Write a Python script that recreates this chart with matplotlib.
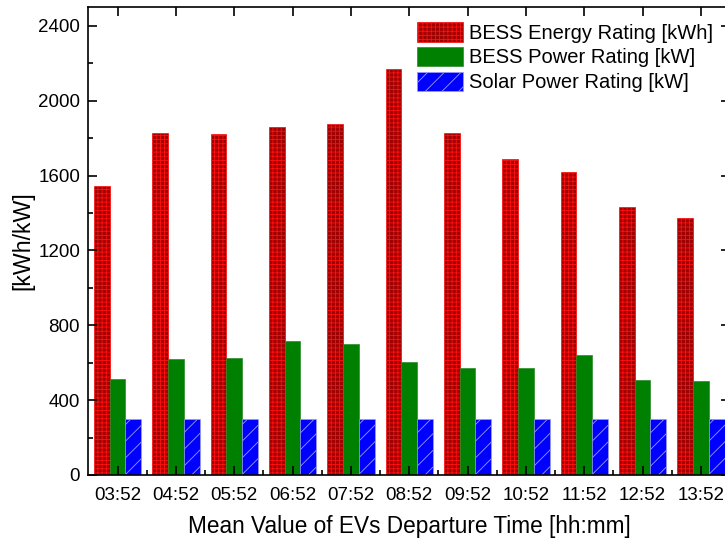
import matplotlib
matplotlib.use("Agg")
import matplotlib.pyplot as plt
from matplotlib.ticker import MultipleLocator
import numpy as np

departure_times = ["03:52", "04:52", "05:52", "06:52", "07:52", "08:52",
                   "09:52", "10:52", "11:52", "12:52", "13:52"]
bess_energy = [1543, 1827, 1821, 1859, 1875, 2170, 1827, 1687, 1617, 1432, 1373]
bess_power = [512, 620, 624, 715, 699, 604, 572, 572, 643, 507, 500]
solar_power = [300, 300, 300, 300, 300, 300, 300, 300, 300, 300, 300]

plt.rcParams["font.family"] = ["Liberation Sans", "DejaVu Sans"]
plt.rcParams["hatch.linewidth"] = 0.6


def main():
    fig = plt.figure(figsize=(7.25, 5.41), dpi=100)
    ax = fig.add_axes([0.122, 0.122, 0.885, 0.865])

    x = np.arange(len(departure_times))
    w = 0.27
    ax.bar(x - w, bess_energy, w, facecolor="#a00000", edgecolor="#ff1010",
           hatch="++++", linewidth=0.5, label="BESS Energy Rating [kWh]")
    ax.bar(x, bess_power, w, color="#008000", edgecolor="#2a8a2a",
           linewidth=0.5, label="BESS Power Rating [kW]")
    ax.bar(x + w, solar_power, w, facecolor="#0000ff", edgecolor="#9a9aff",
           hatch="//", linewidth=0.5, label="Solar Power Rating [kW]")

    ax.set_xlim(-0.5, 10.5)
    ax.set_ylim(0, 2500)
    ax.set_xticks(x)
    ax.set_xticklabels(departure_times)
    ax.set_xticks(x + 0.5, minor=True)
    ax.yaxis.set_major_locator(MultipleLocator(400))
    ax.yaxis.set_minor_locator(MultipleLocator(200))
    ax.tick_params(which="both", direction="in", top=True, right=True,
                   labelsize=13.5, width=1.2)
    ax.tick_params(which="major", length=6.5, pad=6)
    ax.tick_params(axis="x", which="major", pad=8.5)
    ax.tick_params(which="minor", length=3.6, top=False)
    for s in ax.spines.values():
        s.set_linewidth(1.2)

    ax.set_xlabel("Mean Value of EVs Departure Time [hh:mm]", fontsize=16.3, labelpad=8)
    ax.set_ylabel("[kWh/kW]", fontsize=16.7, labelpad=2.5)

    ax.legend(loc="upper left", bbox_to_anchor=(0.512, 0.967), frameon=False,
              fontsize=14.5, borderpad=0, handlelength=2.29, handleheight=1.08,
              labelspacing=0.21, handletextpad=0.3, borderaxespad=0)

    fig.savefig("out.png", dpi=100)


if __name__ == '__main__':
    main()
